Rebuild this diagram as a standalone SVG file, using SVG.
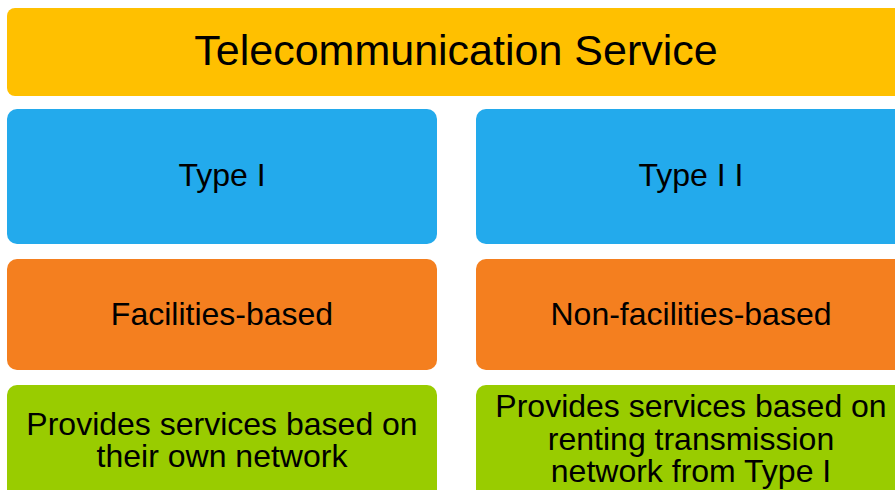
<svg xmlns="http://www.w3.org/2000/svg" width="895" height="490" viewBox="0 0 895 490">
<style>
text{font-family:"Liberation Sans",Arial,sans-serif;fill:#000;text-anchor:middle}
.t{font-size:43px}
.n{font-size:32px}
.y{fill:#FFC000}
.b{fill:#23AAEC}
.o{fill:#F47F1F}
.g{fill:#99CC00}
</style>
<rect width="895" height="490" fill="#fff"/>
<g id="title"><rect class="y" x="7" y="8" width="899" height="88" rx="8"/><text class="t" x="456" y="65">Telecommunication Service</text></g>
<g id="type1"><rect class="b" x="7" y="109" width="430" height="135" rx="10"/><text class="n" x="222" y="186">Type I</text></g>
<g id="type2"><rect class="b" x="476" y="109" width="430" height="135" rx="10"/><text class="n" x="691" y="186">Type I I</text></g>
<g id="fac"><rect class="o" x="7" y="259" width="430" height="111" rx="10"/><text class="n" x="222" y="325">Facilities-based</text></g>
<g id="nonfac"><rect class="o" x="476" y="259" width="430" height="111" rx="10"/><text class="n" x="691" y="325">Non-facilities-based</text></g>
<g id="desc1"><rect class="g" x="7" y="385" width="430" height="130" rx="10"/><text class="n" x="222" y="435">Provides services based on</text><text class="n" x="222" y="467">their own network</text></g>
<g id="desc2"><rect class="g" x="476" y="385" width="430" height="130" rx="10"/><text class="n" x="691" y="417">Provides services based on</text><text class="n" x="691" y="450">renting transmission</text><text class="n" x="691" y="482">network from Type I</text></g>
<g id="connectors"/>
</svg>
